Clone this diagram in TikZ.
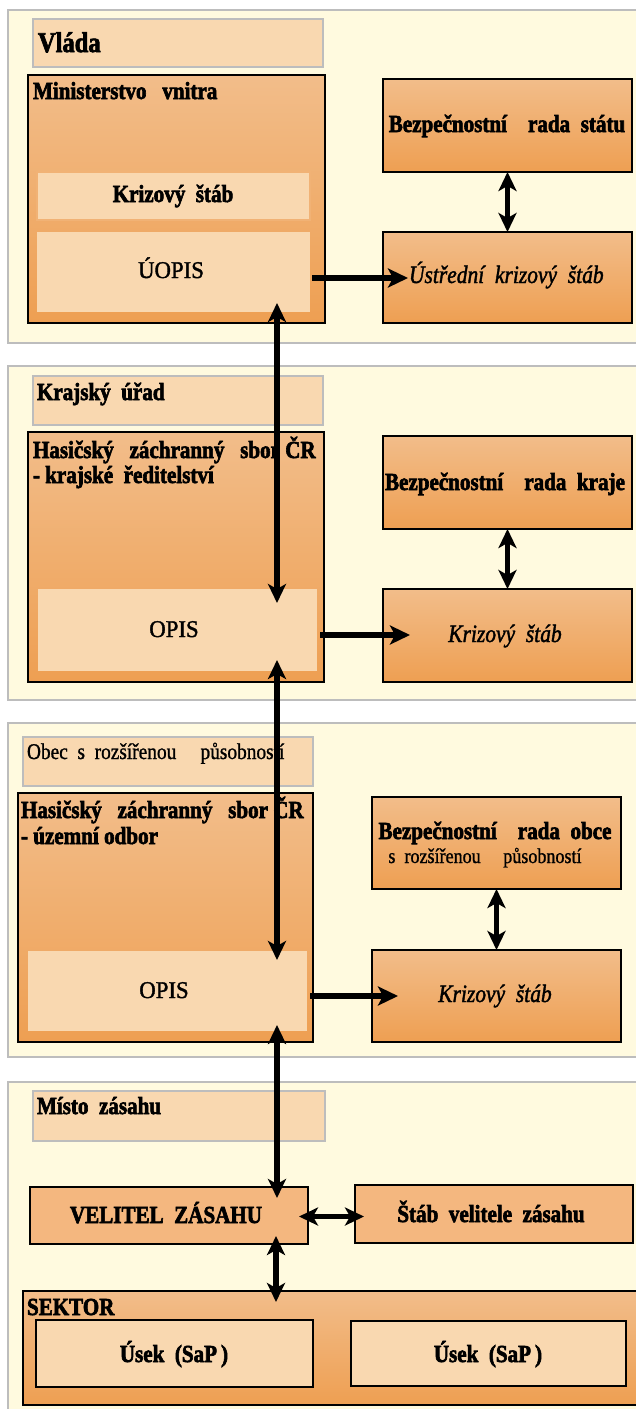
\documentclass[tikz,border=0pt]{standalone}
\usepackage{fontspec}
\setmainfont{Liberation Serif}[FakeStretch=0.86, BoldFeatures={FakeBold=2.5}, ItalicFeatures={FakeBold=1.5}]
\newfontfamily\regfont{Liberation Serif}[FakeStretch=0.95, FakeBold=1.5]
\newfontfamily\smallfont{Liberation Serif}[FakeStretch=0.86, FakeBold=1]
\usetikzlibrary{arrows.meta}
\definecolor{panelfill}{HTML}{FFFADF}
\definecolor{panelline}{HTML}{BDBDBD}
\definecolor{peach}{HTML}{F9D8B0}
\definecolor{otop}{HTML}{F2BD8A}
\definecolor{obot}{HTML}{EE9F52}
\definecolor{oflat}{HTML}{F4B77F}
\definecolor{kline}{HTML}{F1B275}
\tikzset{
  every node/.style={inner sep=0pt, outer sep=0pt},
  panel/.style={draw=panelline, line width=2pt, fill=panelfill, anchor=north west},
  titlebox/.style={draw=panelline, line width=2pt, fill=peach, anchor=north west},
  obox/.style={draw=black, line width=1.8pt, top color=otop, bottom color=obot, anchor=north west},
  flatbox/.style={draw=black, line width=1.8pt, fill=oflat, anchor=north west},
  lbox/.style={fill=peach, anchor=north west},
  fB/.style={font=\fontsize{24.5}{26}\selectfont\bfseries},
  fT/.style={font=\fontsize{28.5}{30}\selectfont\bfseries},
  fR/.style={font=\fontsize{24}{26}\selectfont\regfont},
  fS/.style={font=\fontsize{21}{23}\selectfont\smallfont},
  fST/.style={font=\fontsize{22.5}{24}\selectfont\smallfont},
  fI/.style={font=\fontsize{25}{26}\selectfont\itshape},
  dblv/.style={line width=5.5pt, {Stealth[length=19pt,width=18pt,inset=5pt]}-{Stealth[length=19pt,width=18pt,inset=5pt]}},
  harr/.style={line width=6.5pt, -{Stealth[length=20pt,width=19pt,inset=5pt]}},
}
\begin{document}
\begin{tikzpicture}[x=1pt,y=-1pt]
\useasboundingbox (0,0) rectangle (636,1409);
\clip (0,0) rectangle (636,1409);
\fill[white] (0,0) rectangle (636,1409);

% panels
\node[panel, minimum width=660pt, minimum height=333pt] (p1) at (8,10) {};
\node[panel, minimum width=660pt, minimum height=334pt] (p2) at (8,366) {};
\node[panel, minimum width=660pt, minimum height=334pt] (p3) at (8,723) {};
\node[panel, minimum width=660pt, minimum height=340pt] (p4) at (8,1082) {};

% ---- level 1
\node[titlebox, minimum width=290pt, minimum height=48pt] (vl) at (33,19) {};
\node[fT, anchor=base west] (vlt) at (38,52) {Vláda};
\node[obox, minimum width=297pt, minimum height=248pt] (mv) at (28,75) {};
\node[fB, anchor=base west] (mvt) at (33,99) {Ministerstvo\ \ \ vnitra};
\node[lbox, draw=kline, line width=1.5pt, minimum width=273pt, minimum height=48pt] (ksi) at (37,172) {};
\node[fB, anchor=base] (ksit) at (173,202) {Krizový\ \ štáb};
\node[lbox, minimum width=273pt, minimum height=80pt] (uopis) at (37,232) {};
\node[fR, anchor=base] (uopist) at (171,278) {ÚOPIS};
\node[obox, minimum width=249pt, minimum height=93pt] (bs) at (383,79) {};
\node[fB, anchor=base] (bst) at (507,132) {Bezpečnostní\ \ \ \ rada\ \ státu};
\node[obox, minimum width=249pt, minimum height=91pt] (us) at (383,232) {};
\node[fI, anchor=base west] (ust) at (409,283) {Ústřední\ \ krizový\ \ štáb};

% ---- level 2
\node[titlebox, minimum width=290pt, minimum height=49pt] (ku) at (33,376) {};
\node[fB, anchor=base west] (kut) at (37,400) {Krajský\ \ úřad};
\node[obox, minimum width=296pt, minimum height=250pt] (hk) at (28,432) {};
\node[fB, anchor=base west] (hkt1) at (33,458) {Hasičský\ \ \ záchranný\ \ \ sbor ČR};
\node[fB, anchor=base west] (hkt2) at (33,483) {- krajské\ \ ředitelství};
\node[lbox, minimum width=279pt, minimum height=82pt] (opk) at (38,589) {};
\node[fR, anchor=base] (opkt) at (174,637) {OPIS};
\node[obox, minimum width=249pt, minimum height=93pt] (bk) at (383,436) {};
\node[fB, anchor=base] (bkt) at (505,490) {Bezpečnostní\ \ \ \ rada\ \ kraje};
\node[obox, minimum width=249pt, minimum height=93pt] (kk) at (383,589) {};
\node[fI, anchor=base] (kkt) at (505,642) {Krizový\ \ štáb};

% ---- level 3
\node[titlebox, minimum width=290pt, minimum height=49pt] (ob) at (23,737) {};
\node[fST, anchor=base west] (obt) at (27,759) {Obec\ \ s\ \ rozšířenou\ \ \ \ \ působností};
\node[obox, minimum width=295pt, minimum height=249pt] (ho) at (18,793) {};
\node[fB, anchor=base west] (hot1) at (21,818) {Hasičský\ \ \ záchranný\ \ \ sbor ČR};
\node[fB, anchor=base west] (hot2) at (21,844) {- územní\ odbor};
\node[lbox, minimum width=279pt, minimum height=80pt] (opo) at (28,951) {};
\node[fR, anchor=base] (opot) at (164,998) {OPIS};
\node[obox, minimum width=249pt, minimum height=92pt] (bo) at (372,797) {};
\node[fB, anchor=base] (bot1) at (495,839) {Bezpečnostní\ \ \ \ rada\ \ obce};
\node[fS, anchor=base] (bot2) at (485,863) {s\ \ rozšířenou\ \ \ \ \ působností};
\node[obox, minimum width=249pt, minimum height=92pt] (ko) at (372,950) {};
\node[fI, anchor=base] (kot) at (495,1002) {Krizový\ \ štáb};

% ---- level 4
\node[titlebox, minimum width=292pt, minimum height=50pt] (mz) at (33,1091) {};
\node[fB, anchor=base west] (mzt) at (37,1114) {Místo\ \ zásahu};
\node[flatbox, minimum width=278pt, minimum height=57pt] (vz) at (30,1187) {};
\node[fB, anchor=base] (vzt) at (166,1223) {VELITEL\ \ ZÁSAHU};
\node[flatbox, minimum width=278pt, minimum height=58pt] (sv) at (355,1185) {};
\node[fB, anchor=base] (svt) at (491,1222) {Štáb\ \ velitele\ \ zásahu};
\node[obox, minimum width=640pt, minimum height=114pt] (sk) at (23,1291) {};
\node[fB, anchor=base west] (skt) at (27,1315) {SEKTOR};
\node[lbox, draw=black, line width=1.8pt, minimum width=277pt, minimum height=67pt] (u1) at (36,1320) {};
\node[fB, anchor=base] (u1t) at (174,1362) {Úsek\ \ (SaP\,)};
\node[lbox, draw=black, line width=1.8pt, minimum width=275pt, minimum height=65pt] (u2) at (351,1321) {};
\node[fB, anchor=base] (u2t) at (488,1362) {Úsek\ \ (SaP\,)};

% ---- connectors
\draw[dblv] ([xshift=-33pt,yshift=9pt]uopis.south east) -- ([xshift=-40pt,yshift=-14pt]opk.north east);
\draw[dblv] ([xshift=-40pt,yshift=11pt]opk.south east) -- ([xshift=-30pt,yshift=-9pt]opo.north east);
\draw[dblv] ([xshift=-30pt,yshift=6pt]opo.south east) -- ([xshift=-31pt,yshift=-11pt]vz.north east);
\draw[dblv] ([xshift=-32pt,yshift=8pt]vz.south east) -- ([xshift=253pt,yshift=-11pt]sk.north west);
\path ([xshift=-9pt,yshift=-1pt]vz.east) coordinate (a5s) ([xshift=9pt]sv.west) coordinate (a5e);
\draw[dblv] (a5s) -- (a5s -| a5e);

\draw[dblv] (bs.south) -- (us.north);
\draw[dblv] (bk.south) -- (kk.north);
\draw[dblv] (bo.south) -- (ko.north);

\path ([xshift=2pt,yshift=-6pt]uopis.east) coordinate (h1s) ([xshift=25pt]us.west) coordinate (h1e);
\draw[harr] (h1s) -- (h1s -| h1e);
\path ([xshift=3pt,yshift=-5pt]opk.east) coordinate (h2s) ([xshift=27pt]kk.west) coordinate (h2e);
\draw[harr] (h2s) -- (h2s -| h2e);
\path ([xshift=3pt,yshift=-5pt]opo.east) coordinate (h3s) ([xshift=26pt]ko.west) coordinate (h3e);
\draw[harr] (h3s) -- (h3s -| h3e);
\end{tikzpicture}
\end{document}
